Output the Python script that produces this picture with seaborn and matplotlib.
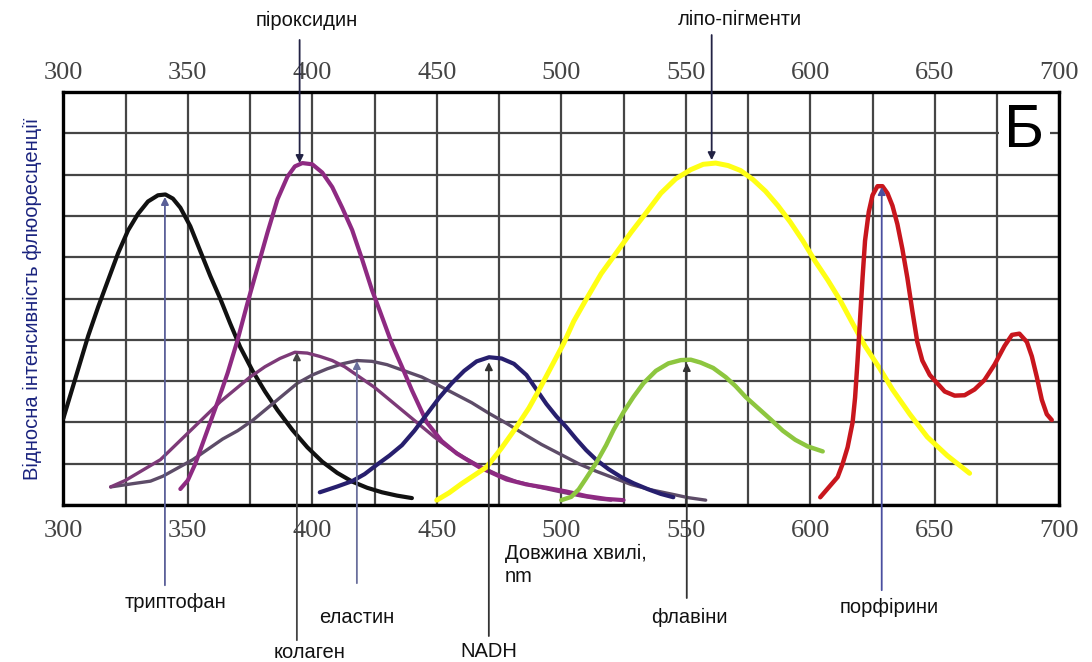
import matplotlib
matplotlib.use('Agg')
import matplotlib.pyplot as plt
import seaborn as sns
import numpy as np

sns.set_style('white')
plt.rcParams['font.family'] = ['Liberation Sans', 'DejaVu Sans']

# curves: wavelength (nm) and relative intensity
trp_x = [300, 303, 306, 310, 314, 318, 322, 326, 330, 334, 338, 341, 344, 347, 351, 355, 359, 363, 367,
         371, 376, 381, 386, 392, 398, 404, 410, 416, 422, 428, 434, 440]
trp_y = [2.1, 2.7, 3.3, 4.1, 4.8, 5.45, 6.1, 6.65, 7.05, 7.35, 7.5, 7.52, 7.42, 7.2, 6.75, 6.15, 5.55, 5.0, 4.4,
         3.83, 3.25, 2.75, 2.3, 1.82, 1.4, 1.05, 0.78, 0.57, 0.42, 0.31, 0.23, 0.17]

pyr_x = [347, 350, 353, 356, 359, 362, 366, 370, 374, 378, 382, 386, 390, 393, 396, 400, 404, 408, 412, 416,
         420, 424, 427, 432, 436, 440, 446, 452, 458, 467, 478, 486, 494, 502, 510, 518, 525]
pyr_y = [0.39, 0.6, 1.0, 1.5, 2.0, 2.5, 3.2, 4.0, 4.9, 5.75, 6.6, 7.4, 7.95, 8.2, 8.28, 8.25, 8.05, 7.7, 7.2, 6.66,
         5.95, 5.2, 4.72, 3.9, 3.35, 2.78, 2.0, 1.55, 1.25, 0.92, 0.62, 0.5, 0.42, 0.33, 0.22, 0.15, 0.12]

col_x = [319, 325, 332, 339, 345, 351, 357, 363, 369, 375, 381, 387, 393, 398, 403, 408, 413, 419, 425, 431,
         437, 443, 449, 455, 461, 467, 474, 482, 490, 499, 508, 515, 520]
col_y = [0.44, 0.6, 0.85, 1.1, 1.45, 1.8, 2.15, 2.5, 2.8, 3.1, 3.35, 3.55, 3.7, 3.68, 3.6, 3.5, 3.35, 3.1, 2.85, 2.55,
         2.25, 1.95, 1.65, 1.38, 1.15, 0.95, 0.75, 0.57, 0.45, 0.33, 0.22, 0.15, 0.12]

ela_x = [319, 328, 335, 340, 346, 352, 358, 364, 370, 376, 382, 388, 394, 400, 406, 412, 418, 424, 430, 437,
         444, 450, 457, 464, 471, 478, 485, 492, 500, 507, 514, 521, 528, 536, 544, 551, 558]
ela_y = [0.44, 0.52, 0.58, 0.7, 0.9, 1.1, 1.35, 1.6, 1.8, 2.05, 2.35, 2.65, 2.95, 3.15, 3.3, 3.42, 3.5, 3.48, 3.4, 3.25,
         3.1, 2.92, 2.7, 2.48, 2.22, 1.98, 1.72, 1.47, 1.22, 1.0, 0.82, 0.66, 0.5, 0.37, 0.27, 0.18, 0.12]

nadh_x = [403, 410, 416, 421, 426, 431, 436, 441, 446, 451, 456, 461, 466, 471, 476, 481, 486, 490, 494, 498,
          502, 506, 510, 514, 519, 524, 529, 535, 540, 545]
nadh_y = [0.31, 0.45, 0.58, 0.75, 0.98, 1.2, 1.45, 1.8, 2.2, 2.6, 2.95, 3.25, 3.48, 3.58, 3.55, 3.42, 3.15, 2.8, 2.45, 2.15,
          1.89, 1.6, 1.33, 1.1, 0.87, 0.68, 0.53, 0.38, 0.27, 0.19]

lip_x = [450, 455, 460, 465, 470, 476, 482, 487, 491, 496, 501, 505, 510, 516, 522, 528, 534, 540, 546, 552,
         557, 562, 567, 572, 577, 582, 587, 592, 597, 602, 607, 612, 617, 622, 628, 633, 640, 647, 655, 664]
lip_y = [0.12, 0.3, 0.52, 0.72, 0.92, 1.38, 1.89, 2.35, 2.78, 3.35, 3.92, 4.45, 4.98, 5.6, 6.1, 6.6, 7.07, 7.55, 7.9, 8.12,
         8.25, 8.28, 8.22, 8.1, 7.88, 7.6, 7.25, 6.85, 6.4, 5.9, 5.45, 4.96, 4.4, 3.85, 3.3, 2.8, 2.2, 1.65, 1.2, 0.77]

fla_x = [500, 504, 507, 510, 514, 518, 521, 525, 529, 533, 538, 543, 548, 552, 556, 561, 566, 570, 574, 579,
         584, 589, 594, 599, 605]
fla_y = [0.12, 0.2, 0.38, 0.65, 1.02, 1.45, 1.82, 2.25, 2.62, 2.95, 3.25, 3.43, 3.51, 3.52, 3.45, 3.32, 3.1, 2.88, 2.62, 2.35,
         2.08, 1.8, 1.58, 1.42, 1.3]

por_x = [604, 607, 611, 613, 615, 617, 618, 619, 620, 621, 622, 623.5, 625, 627, 629, 631, 633, 635, 637, 639,
         641, 643, 645, 648, 651, 654, 658, 662, 666, 670, 674, 678, 681, 684, 687, 689, 691, 693, 695, 697]
por_y = [0.19, 0.4, 0.68, 1.0, 1.4, 2.0, 2.6, 3.5, 4.5, 5.5, 6.4, 7.1, 7.5, 7.72, 7.72, 7.55, 7.25, 6.8, 6.2, 5.5,
         4.7, 3.95, 3.5, 3.15, 2.95, 2.75, 2.65, 2.66, 2.8, 3.03, 3.4, 3.85, 4.12, 4.15, 3.95, 3.6, 3.1, 2.55, 2.2, 2.06]

x_ticks = [300, 350, 400, 450, 500, 550, 600, 650, 700]

# annotation: label, arrow x, arrow tip y
ann_names = ['триптофан', 'колаген', 'еластин', 'NADH', 'флавіни', 'порфірини', 'піроксидин', 'ліпо-пігменти']
ann_x = [340.8, 393.8, 417.9, 470.9, 550.4, 628.7, 394.9, 560.4]
ann_tip = [7.46, 3.70, 3.49, 3.46, 3.44, 7.70, 8.28, 8.35]

fig, ax = plt.subplots(figsize=(10.92, 6.62), dpi=100)
fig.subplots_adjust(left=0.058, right=0.970, bottom=0.237, top=0.861)

curves = [
    (trp_x, trp_y, '#111111', 3.0),
    (ela_x, ela_y, '#5d4c68', 2.4),
    (col_x, col_y, '#7d3a78', 2.4),
    (pyr_x, pyr_y, '#8e2a82', 3.0),
    (nadh_x, nadh_y, '#271f6e', 3.0),
    (lip_x, lip_y, '#ffff14', 3.6),
    (fla_x, fla_y, '#8dc63f', 3.2),
    (por_x, por_y, '#c8161d', 3.2),
]
for xs, ys, c, lw in curves:
    sns.lineplot(x=xs, y=ys, color=c, lw=lw, ax=ax, estimator=None, sort=False,
                 solid_capstyle='round', solid_joinstyle='round', zorder=3)

ax.set_xlim(300, 700)
ax.set_ylim(0, 10)
ax.set_xticks(x_ticks)
ax.set_xticks(np.arange(325, 700, 50), minor=True)
ax.set_yticks(range(0, 11))
ax.set_yticklabels([])
ax.grid(True, which='both', color='#454545', lw=1.6)
ax.tick_params(axis='x', which='both', length=0, pad=11)
ax.tick_params(axis='y', length=0)
for lab in ax.get_xticklabels():
    lab.set_fontfamily('Liberation Serif')
    lab.set_fontsize(19)
    lab.set_color('#444444')
for s in ax.spines.values():
    s.set_linewidth(2.4)
    s.set_color('black')

# same scale repeated on top
top = ax.secondary_xaxis('top')
top.set_xticks(x_ticks)
top.tick_params(length=0, pad=6)
top.spines['top'].set_visible(False)
for lab in top.get_xticklabels():
    lab.set_fontfamily('Liberation Serif')
    lab.set_fontsize(19)
    lab.set_color('#444444')

ax.set_ylabel('Відносна інтенсивність флюоресценції', fontsize=14.5, color='#1a237e', labelpad=12)

# arrows from below the axis
below_end = [-1.94, -3.27, -1.89, -3.17, -2.25, -2.06]
below_lab_x = [345, 399, 418, 471, 551.6, 631.9]
below_lab_y = [-2.35, -3.56, -2.71, -3.54, -2.71, -2.47]
line_cols = ['#5a5f98', '#444444', '#6a6f9c', '#333333', '#333333', '#4a4fa0']
for i in range(6):
    ax.annotate('', xy=(ann_x[i], ann_tip[i]), xytext=(ann_x[i], below_end[i]),
                arrowprops=dict(arrowstyle='-|>', color=line_cols[i], lw=1.3,
                                mutation_scale=11, shrinkA=0, shrinkB=0),
                annotation_clip=False, zorder=4)
    ax.text(below_lab_x[i], below_lab_y[i], ann_names[i], ha='center', va='center',
            fontsize=14.5, color='#111111', clip_on=False)

# arrows from above the axis
above_start = [11.26, 11.38]
above_lab_x = [397.8, 571.7]
above_lab_y = [11.72, 11.76]
for j, i in enumerate([6, 7]):
    ax.annotate('', xy=(ann_x[i], ann_tip[i]), xytext=(ann_x[i], above_start[j]),
                arrowprops=dict(arrowstyle='-|>', color='#222244', lw=1.3,
                                mutation_scale=11, shrinkA=0, shrinkB=0),
                annotation_clip=False, zorder=4)
    ax.text(above_lab_x[j], above_lab_y[j], ann_names[i], ha='center', va='center',
            fontsize=14.5, color='#111111', clip_on=False)

ax.text(477.3, -1.16, 'Довжина хвилі,', ha='left', va='center', fontsize=14.5, color='#111111', clip_on=False)
ax.text(477.3, -1.74, 'nm', ha='left', va='center', fontsize=14.5, color='#111111', clip_on=False)

ax.text(686, 9.05, 'Б', ha='center', va='center', fontsize=44, color='black', zorder=5,
        bbox=dict(facecolor='white', edgecolor='none', pad=4))

fig.savefig('out.png', dpi=100)
